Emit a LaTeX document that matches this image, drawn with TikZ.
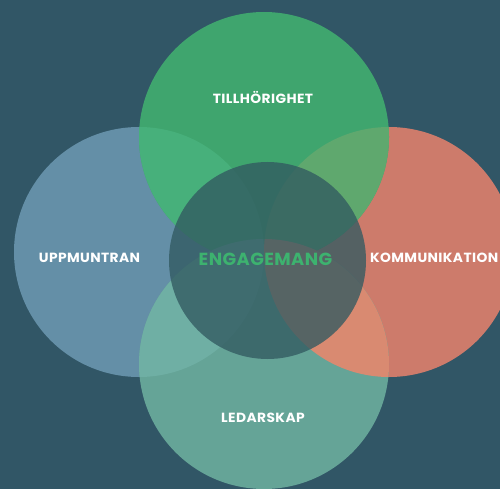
\documentclass[tikz,border=0pt]{standalone}
\usepackage{fontspec}
\setmainfont{Poppins}
\newfontfamily\labelfont[LetterSpace=3,FakeStretch=1.04]{Poppins}
\newfontfamily\corefont[LetterSpace=2.5,FakeStretch=1.02]{Poppins}
\definecolor{bgc}{HTML}{315666}
\definecolor{greenc}{HTML}{3FA56E}
\definecolor{bluec}{HTML}{648FA7}
\definecolor{redc}{HTML}{CD7B6B}
\definecolor{tealc}{HTML}{65A497}
\definecolor{greenblue}{HTML}{47B07B}
\definecolor{greenred}{HTML}{5FA86E}
\definecolor{blueteal}{HTML}{6FAFA4}
\definecolor{redteal}{HTML}{D98A71}
\definecolor{greenteal}{HTML}{52A683}
\definecolor{corec}{HTML}{325A61}
\definecolor{coretext}{HTML}{3DB26F}
\tikzset{
  label/.style={text=white, font=\labelfont\bfseries\fontsize{13.3}{15}\selectfont, inner sep=0pt},
  corelabel/.style={text=coretext, font=\corefont\bfseries\fontsize{17.5}{19}\selectfont, inner sep=0pt}
}
\begin{document}
\begin{tikzpicture}[x=1pt,y=-1pt]
\useasboundingbox (0,0) rectangle (500,489);
\fill[bgc] (0,0) rectangle (500,489);
\clip (0,0) rectangle (500,489);
\coordinate (cT) at (264,137);
\coordinate (cL) at (139,252);
\coordinate (cR) at (389,252);
\coordinate (cB) at (264,364);
\coordinate (cC) at (267.5,260.5);
% four outer circles
\fill[bluec] (cL) circle (125);
\fill[redc] (cR) circle (125);
\fill[tealc] (cB) circle (125);
\fill[greenc] (cT) circle (125);
% lens-shaped overlaps
\begin{scope}
  \clip (cT) circle (125);
  \fill[greenblue] (cL) circle (125);
  \fill[greenred] (cR) circle (125);
  \fill[greenteal] (cB) circle (125);
\end{scope}
\begin{scope}
  \clip (cB) circle (125);
  \fill[blueteal] (cL) circle (125);
  \fill[redteal] (cR) circle (125);
\end{scope}
% central circle
\fill[corec, fill opacity=0.78] (cC) circle (98.5);
% labels
\node[label] (tillhorighet) at (263,97) {TILLHÖRIGHET};
\node[label] (uppmuntran) at (89.5,258) {UPPMUNTRAN};
\node[label, anchor=east] (kommunikation) at (498.5,258) {KOMMUNIKATION};
\node[label] (ledarskap) at (263,418) {LEDARSKAP};
\node[corelabel] (engagemang) at (265.5,259) {ENGAGEMANG};
\end{tikzpicture}
\end{document}
